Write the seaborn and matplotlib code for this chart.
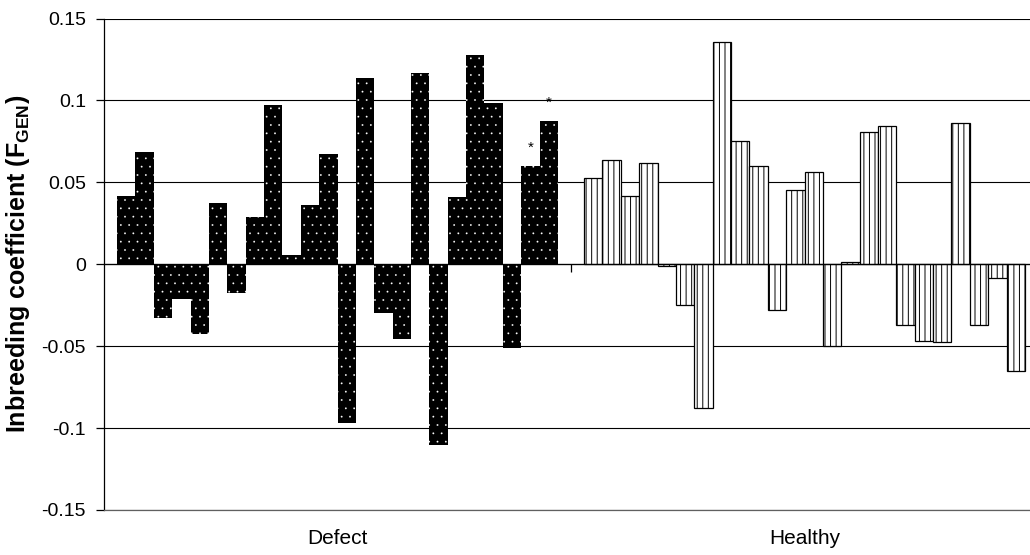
import numpy as np
import pandas as pd
import matplotlib
matplotlib.use("Agg")
import matplotlib.pyplot as plt
import seaborn as sns

# inbreeding coefficients, one value per animal
defect_vals = [0.0417, 0.0685, -0.0331, -0.0213, -0.0423, 0.0376, -0.0173, 0.0287,
               0.0970, 0.0059, 0.0364, 0.0675, -0.0972, 0.1136, -0.0297, -0.0457,
               0.1165, -0.1106, 0.0409, 0.1280, 0.0984, -0.0510, 0.0600, 0.0874]
healthy_vals = [0.0524, 0.0636, 0.0417, 0.0618, -0.0012, -0.0246, -0.0880, 0.1356,
                0.0752, 0.0602, -0.0279, 0.0451, 0.0563, -0.0498, 0.0014, 0.0809,
                0.0843, -0.0368, -0.0470, -0.0476, 0.0864, -0.0368, -0.0081, -0.0652]
groups = ["Defect", "Healthy"]
defect_starred = [22, 23]  # bars flagged with *
y_ticks = [-0.15, -0.1, -0.05, 0, 0.05, 0.1, 0.15]
y_ticklabels = ["-0.15", "-0.1", "-0.05", "0", "0.05", "0.1", "0.15"]

n = len(defect_vals)
df = pd.DataFrame({
    "group": [groups[0]] * n + [groups[1]] * n,
    "sample": list(range(n)) * 2,
    "F_GEN": defect_vals + healthy_vals,
})

plt.rcParams["font.family"] = ["Liberation Sans", "DejaVu Sans"]
plt.rcParams["mathtext.fontset"] = "custom"
plt.rcParams["mathtext.rm"] = "Liberation Sans"
plt.rcParams["mathtext.bf"] = "Liberation Sans:bold"
plt.rcParams["hatch.linewidth"] = 0.7

fig = plt.figure(figsize=(10.3, 5.55), dpi=100)
ax = fig.add_axes([104 / 1030, 45 / 555, 934 / 1030, 491.5 / 555])

sns.barplot(data=df, x="group", y="F_GEN", hue="sample", order=groups,
            dodge=True, width=0.944, palette=["black"] * n, legend=False,
            errorbar=None, ax=ax)

defect_bars = []
for p in ax.patches:
    cx = p.get_x() + p.get_width() / 2
    if cx < 0.5:
        p.set_facecolor("black")
        p.set_edgecolor("white")
        p.set_linewidth(0)
        p.set_hatch("..")
        if hasattr(p, "set_hatch_linewidth"):
            p.set_hatch_linewidth(0.1)
        defect_bars.append(p)
    else:
        p.set_facecolor("white")
        p.set_edgecolor("black")
        p.set_linewidth(0.9)
        p.set_hatch("|||")

defect_bars.sort(key=lambda p: p.get_x())
for i in defect_starred:
    p = defect_bars[i]
    ax.annotate("*", xy=(p.get_x() + p.get_width() / 2, p.get_height()),
                xytext=(0, 10), textcoords="offset points",
                ha="center", va="baseline", fontsize=11)

ax.set_ylim(-0.15, 0.15)
ax.set_xlim(-0.5, 1.5)
ax.set_yticks(y_ticks)
ax.set_yticklabels(y_ticklabels)
ax.yaxis.grid(True, color="black", linewidth=0.8)
ax.set_axisbelow(True)

# zero line acts as category axis, tick between the two groups
ax.spines["top"].set_position(("data", 0))
ax.spines["top"].set_linewidth(0.9)
ax.spines["right"].set_visible(False)
ax.spines["bottom"].set_color("#606060")
ax.spines["bottom"].set_linewidth(0.9)
ax.spines["left"].set_linewidth(0.9)
ax.set_xticks([0.5], minor=True)
ax.tick_params(axis="x", which="major", length=0, pad=14, labelsize=15)
ax.tick_params(axis="x", which="minor", bottom=False, top=True,
               direction="in", length=6, width=0.9)
ax.tick_params(axis="y", length=6, width=0.9, pad=7, labelsize=14)

ax.set_xlabel("")
ax.set_ylabel(r"Inbreeding coefficient (F$_{\mathbf{GEN}}$)",
              fontsize=18, fontweight="bold")
ax.yaxis.set_label_coords(-0.077, 0.5)

fig.savefig("out.png", dpi=100)
